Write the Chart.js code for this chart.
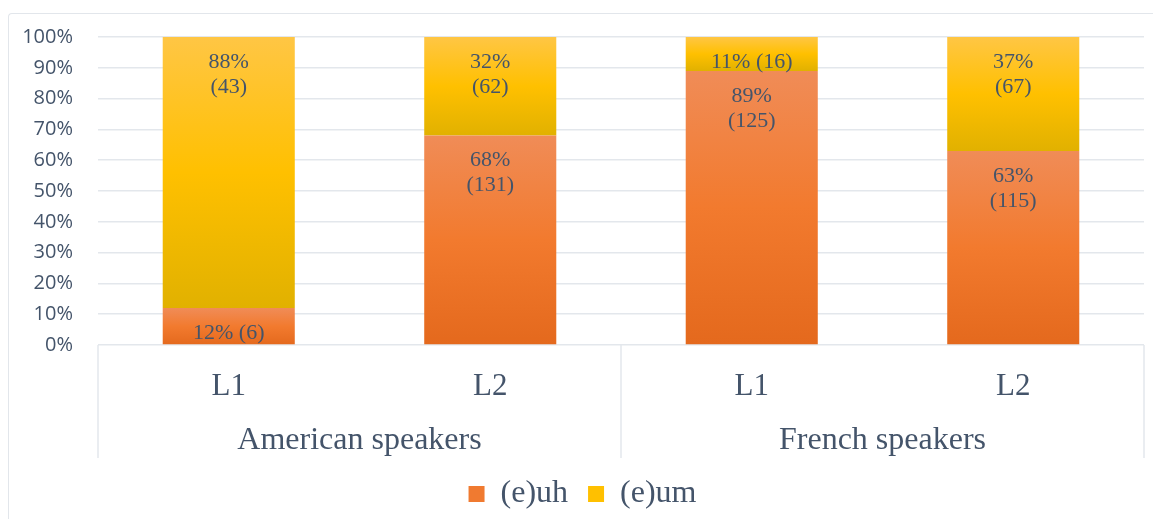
<!DOCTYPE html>
<html>
<head>
<meta charset="utf-8">
<title>(e)uh vs (e)um</title>
<script src="https://cdn.jsdelivr.net/npm/chart.js@4.4.1/dist/chart.umd.min.js"></script>
<style>
  html, body { margin: 0; padding: 0; background: #fff; overflow: hidden; }
  .frame {
    position: absolute; left: 8px; top: 13px; width: 1300px; height: 700px;
    border-left: 1.5px solid #E2E6EB; border-top: 1.5px solid #E2E6EB;
    border-top-left-radius: 4px;
  }
  .wrap { position: absolute; left: 0; top: 0; width: 1153px; height: 519px; }
</style>
</head>
<body>
<div class="frame"></div>
<div class="wrap"><canvas id="filler-chart"></canvas></div>
<script>
// 数据
const categories = ['L1', 'L2', 'L1', 'L2'];
const groups = ['American speakers', 'French speakers'];
const seriesNames = ['(e)uh', '(e)um'];
const euhPct = [12, 68, 89, 63];
const eumPct = [88, 32, 11, 37];
const euhCounts = [6, 131, 125, 115];
const eumCounts = [43, 62, 16, 67];

const textColor = '#44546A';
const gridColor = '#E3E7EC';
const serif = "'Liberation Serif', 'Times New Roman', serif";
const legendColors = ['#F07A30', '#FFC000'];

// 渐变：每一段单独上浅下深
const orangeStops = [[0, '#F08C57'], [0.5, '#F27A2E'], [1, '#E4691D']];
const yellowStops = [[0, '#FFC644'], [0.5, '#FFC000'], [1, '#E1B100']];

function segmentFill(ctx, stops, solid) {
    const chart = ctx.chart;
    const y = chart.scales.y;
    if (ctx.type !== 'data' || !y || !chart.chartArea) return solid;
    const i = ctx.dataIndex;
    const base = ctx.datasetIndex === 0 ? 0 : euhPct[i];
    const top = base + ctx.raw;
    const y0 = y.getPixelForValue(top);
    const y1 = y.getPixelForValue(base);
    if (!isFinite(y0) || !isFinite(y1) || y0 === y1) return solid;
    const g = chart.ctx.createLinearGradient(0, y0, 0, y1);
    stops.forEach(([o, c]) => g.addColorStop(o, c));
    return g;
}

// 柱内标签
const barLabels = {
    id: 'barLabels',
    afterDatasetsDraw(chart) {
        const ctx = chart.ctx;
        const counts = [euhCounts, eumCounts];
        ctx.save();
        ctx.font = '22px ' + serif;
        ctx.fillStyle = textColor;
        ctx.textAlign = 'center';
        ctx.textBaseline = 'middle';
        chart.data.datasets.forEach((ds, di) => {
            const meta = chart.getDatasetMeta(di);
            meta.data.forEach((bar, i) => {
                const v = ds.data[i];
                const top = Math.min(bar.y, bar.base);
                const lines = v < 15
                    ? [v + '% (' + counts[di][i] + ')']
                    : [v + '%', '(' + counts[di][i] + ')'];
                lines.forEach((t, k) => ctx.fillText(t, bar.x, top + 25 + k * 25));
            });
        });
        ctx.restore();
    }
};

// 分类轴的分隔线
const groupLines = {
    id: 'groupLines',
    afterDraw(chart) {
        const x = chart.scales.x, x2 = chart.scales.x2;
        const ca = chart.chartArea;
        const mid = (x.getPixelForValue(1) + x.getPixelForValue(2)) / 2;
        const ctx = chart.ctx;
        ctx.save();
        ctx.strokeStyle = gridColor;
        ctx.lineWidth = 1.5;
        [ca.left, mid, ca.right].forEach(px => {
            ctx.beginPath();
            ctx.moveTo(px, ca.bottom);
            ctx.lineTo(px, x2.bottom);
            ctx.stroke();
        });
        ctx.restore();
    }
};

new Chart(document.getElementById('filler-chart'), {
    type: 'bar',
    data: {
        labels: categories,
        datasets: [
            {
                label: seriesNames[0],
                data: euhPct,
                backgroundColor: ctx => segmentFill(ctx, orangeStops, legendColors[0]),
                barPercentage: 0.505,
                categoryPercentage: 1
            },
            {
                label: seriesNames[1],
                data: eumPct,
                backgroundColor: ctx => segmentFill(ctx, yellowStops, legendColors[1]),
                barPercentage: 0.505,
                categoryPercentage: 1
            }
        ]
    },
    options: {
        responsive: true,
        maintainAspectRatio: false,
        animation: false,
        layout: { padding: { left: 21, right: 9, top: 37, bottom: -1 } },
        plugins: {
            tooltip: { enabled: false },
            legend: {
                position: 'bottom',
                labels: {
                    boxWidth: 16,
                    boxHeight: 16,
                    padding: 20,
                    color: textColor,
                    font: { family: serif, size: 32 },
                    generateLabels: chart =>
                        Chart.defaults.plugins.legend.labels.generateLabels(chart).map((item, i) => ({
                            ...item,
                            fillStyle: legendColors[i],
                            strokeStyle: legendColors[i],
                            lineWidth: 0
                        }))
                }
            }
        },
        scales: {
            x: {
                stacked: true,
                weight: 1,
                grid: { display: false, drawTicks: false },
                border: { display: false },
                afterFit: s => { s.height = 60; },
                ticks: {
                    color: textColor,
                    padding: 23,
                    maxRotation: 0,
                    font: { family: serif, size: 31 }
                }
            },
            x2: {
                type: 'category',
                labels: groups,
                position: 'bottom',
                offset: true,
                weight: 2,
                grid: { display: false, drawTicks: false },
                border: { display: false },
                afterFit: s => { s.height = 53; },
                ticks: {
                    color: textColor,
                    padding: 16,
                    maxRotation: 0,
                    font: { family: serif, size: 32 }
                }
            },
            y: {
                stacked: true,
                min: 0,
                max: 100,
                border: { display: false },
                grid: { color: gridColor, lineWidth: 1.5, drawTicks: false },
                afterFit: s => { s.width = 77; },
                ticks: {
                    stepSize: 10,
                    autoSkip: false,
                    color: textColor,
                    padding: 25,
                    font: { family: "'Open Sans', sans-serif", size: 20 },
                    callback: v => v + '%'
                }
            }
        }
    },
    plugins: [barLabels, groupLines]
});
</script>
</body>
</html>
